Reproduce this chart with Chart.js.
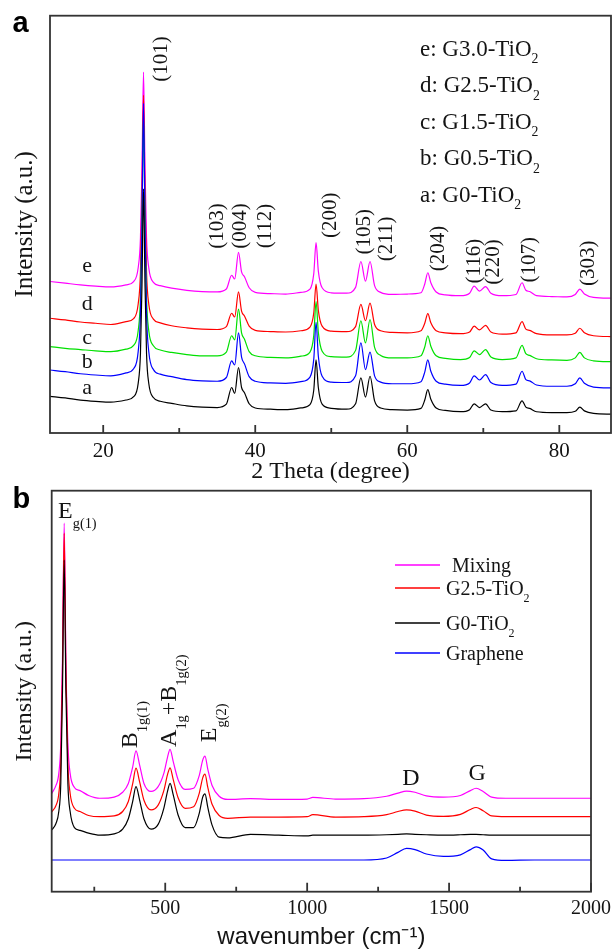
<!DOCTYPE html>
<html lang="en">
<head>
<meta charset="utf-8">
<title>XRD and Raman spectra</title>
<script src="https://cdn.jsdelivr.net/npm/chart.js"></script>
<style>
  html, body { margin: 0; padding: 0; background: #fff; }
  body { width: 613px; height: 949px; overflow: hidden; position: relative; }
  #xrdChart { position: absolute; left: 0; top: 0; }
  #ramanChart { position: absolute; left: 0; top: 470px; }
</style>
</head>
<body>
<canvas id="xrdChart" width="613" height="490"></canvas>
<canvas id="ramanChart" width="613" height="485"></canvas>
<script>
// ---------- (a) XRD patterns, stacked traces in arbitrary units ----------
const twoTheta = [13,15,17,19,21,23,24,24.6,24.9,25.1,25.3,25.5,25.7,26,26.6,27.5,29,31,33,35,
  36.2,36.9,37.3,37.8,38.2,38.6,39.2,40,42,44,46,47.2,47.7,48,48.3,48.8,50,52,53.2,53.9,54.5,55.1,
  55.7,56.5,58,60,61.8,62.3,62.7,63.1,63.8,65,67,68.2,68.8,69.5,70.3,71,72.5,74.3,75.1,75.6,76.1,
  77,79,81,82.1,82.7,83.3,84.5,87];

const xrdG0 = [8.8,8.4,7.9,7.6,7.4,7.9,8.7,11.9,19.1,35.4,58.5,35.4,19.0,11.8,8.5,7.6,7.1,6.5,6.2,
  6.1,6.9,10.9,9.5,15.7,10.9,9.6,7.0,6.0, 5.7,5.6, 6.0,6.8,10.3,17.5,10.9,6.9,5.9,
  5.7,7.0,13.2,8.6,13.6,7.7,6.0,5.6, 5.5,5.9,7.9,10.4,8.1,6.0,5.4,5.1,
  5.6,7.0,6.1,7.0,5.5,5.1, 5.3,7.7,6.2,5.9,5.1,4.9, 4.9,5.2,6.2,5.3,4.7,4.5];
const xrdG05 = [15.1,14.7,14.2,13.9,13.7,14.4,15.4,19.5,28.7,49.5,79.0,49.5,28.6,19.4,15.2,14.1,13.5,12.8,12.5,
  12.4,13.3,17.3,16.3,24.0,18.2,16.5,13.5,12.4, 12.0,11.9, 12.3,13.4,17.7,26.5,18.4,13.6,12.2,
  12.1,13.7,21.6,15.2,19.4,13.7,12.2,11.8, 11.8,12.3,14.6,17.5,14.8,12.4,11.7,11.4,
  12.0,13.7,12.7,14.0,12.1,11.4, 11.7,14.8,12.8,12.5,11.5,11.2, 11.2,11.8,13.2,11.9,11.0,10.8];
const xrdG15 = [20.7,20.3,20.0,19.7,19.5,20.1,21.0,24.5,32.4,50.5,76.0,50.5,32.3,24.4,20.9,19.9,19.3,18.8,18.5,
  18.5,19.4,23.3,22.3,29.7,24.0,22.4,19.5,18.5, 18.1,18.0, 18.4,19.4,23.4,31.5,24.1,19.6,18.3,
  18.2,19.8,26.9,21.6,27.2,20.5,18.6,18.0, 18.0,18.5,20.6,23.3,20.8,18.5,17.9,17.6,
  18.1,19.7,18.8,20.0,18.2,17.6, 18.0,21.0,19.0,18.6,17.8,17.5, 17.4,18.0,19.3,18.0,17.3,17.1];
const xrdG25 = [27.5,27.1,26.6,26.3,26.0,26.7,27.4,30.9,38.6,56.2,81.0,56.2,38.5,30.8,27.3,26.4,25.7,25.2,24.9,
  24.8,25.5,28.7,27.8,33.8,29.2,28.0,25.6,24.6, 24.3,24.2, 24.5,25.4,28.8,35.7,29.4,25.6,24.4,
  24.3,25.5,30.8,26.9,31.1,26.0,24.5,24.1, 24.0,24.5,26.3,28.6,26.4,24.5,24.0,23.8,
  24.2,25.6,24.7,25.8,24.2,23.7, 24.0,26.7,24.9,24.6,23.8,23.5, 23.5,23.9,25.1,24.0,23.3,23.1];
const xrdG30 = [36.3,35.9,35.5,35.2,35.0,35.5,36.3,39.6,46.8,63.2,86.5,63.2,46.7,39.5,36.1,35.3,34.7,34.2,33.9,
  33.8,34.5,37.8,36.9,43.3,38.6,37.4,34.8,33.7, 33.4,33.3, 33.7,34.5,38.2,45.6,38.8,34.8,33.6,
  33.5,34.9,41.1,36.4,41.1,35.3,33.7,33.2, 33.3,33.6,35.7,38.4,36.0,33.8,33.1,32.9,
  33.5,35.2,34.0,35.1,33.5,32.9, 33.2,36.0,34.2,33.9,32.9,32.7, 32.6,33.2,34.5,33.3,32.5,32.3];

const xrdTicks = [20, 30, 40, 50, 60, 70, 80];
const xrdTickLabels = [20, 40, 60, 80];

const hklNames = ['(101)','(103)','(004)','(112)','(200)','(105)','(211)','(204)','(116)','(220)','(107)','(303)'];
const hklX = [27.7, 35.0, 38.1, 41.4, 49.9, 54.4, 57.3, 64.1, 68.8, 71.3, 76.1, 83.8];
const hklY = [89.6, 49.6, 49.6, 49.6, 52.2, 48.2, 46.5, 44.2, 41.2, 41.0, 41.5, 40.7];

const xrdLetters = ['a', 'b', 'c', 'd', 'e'];
const xrdSamples = ['G0-TiO2', 'G0.5-TiO2', 'G1.5-TiO2', 'G2.5-TiO2', 'G3.0-TiO2'];
const xrdLetterY = [10.7, 16.9, 22.8, 30.9, 40.0];

// ---------- (b) Raman spectra ----------
const ramanShift = [100,115,125,132,138,144,150,157,165,180,200,230,270,320,350,370,385,397,410,425,
  450,475,495,508,517,528,545,570,600,620,632,640,650,665,690,720,800,900,1000,1020,
  1100,1200,1280,1320,1350,1380,1420,1480,1540,1575,1595,1620,1650,1700,1800,1900,2000];

const ramanMixing = [24.5,26.5,29.5,37,58,91.9,58,37,29.5,26.0, 25.2,24.0,23.3,23.6,24.8,27.0,31.0,35.1,31.5,27.0,
  25.0,26.2,29.5,33.5,35.5,32.5,28.0,25.5,25.8,29.0, 32.8,33.8,30.5,26.5,23.8,23.0,23.2,23.0,23.1,23.5,
  23.1,23.2,23.8,24.6,25.1,24.8,23.9,23.6,24.0,25.2, 25.8,25.0,23.6,23.3,23.3,23.3,23.3];
const ramanG25 = [19.9,21.5,24.5,32,55,89.4,55,32,24.5,20.8, 20.0,19.0,18.7,18.9,20.0,22.5,26.8,30.8,27.3,22.8,
  20.4,21.6,25.2,29.2,30.9,28.0,23.5,20.8,21.2,24.6, 28.4,29.3,26.0,21.8,19.0,18.3,18.6,18.6,18.7,19.2,
  18.6,18.7,19.2,20.0,20.4,20.1,19.1,18.8,19.3,20.5, 21.0,20.2,18.9,18.7,18.7,18.7,18.7];
const ramanG0 = [15.4,17.0,20.0,27,50,82.7,50,27,20.0,16.0, 15.3,14.6,14.1,14.4,15.6,18.2,22.4,26.2,22.8,18.2,
  15.6,16.8,20.8,25.0,27.0,24.2,19.2,16.0,16.0,19.6, 23.6,24.4,21.0,16.6,13.6,13.4,14.3,14.1,13.9,14.1,
  14.1,14.1,14.2,14.3,14.4,14.3,14.2,14.1,14.2,14.3, 14.3,14.2,14.1,14.1,14.1,14.1,14.1];
const ramanGraphene = [7.9,7.9,7.9,7.9,7.9,7.9,7.9,7.9,7.9,7.9, 7.9,7.9,7.9,7.9,7.9,7.9,7.9,7.9,7.9,7.9,
  7.9,7.9,7.9,7.9,7.9,7.9,7.9,7.9,7.9,7.9, 7.9,7.9,7.9,7.9,7.9,7.9,7.9,7.9,7.9,7.9,
  7.9,7.9,8.4,9.8,10.8,10.5,9.4,8.8,9.2,10.5, 11.2,10.4,8.2,7.8,7.9,7.9,7.9];

const ramanTicks = [250, 500, 750, 1000, 1250, 1500, 1750, 2000];
const ramanTickLabels = [500, 1000, 1500, 2000];

const SERIF = "'Liberation Serif', 'Times New Roman', serif";
const SANS = "'Liberation Sans', Arial, sans-serif";
const INK = '#141414';

// text with subscripts: parts = [[text, isSub], ...]
function richText(ctx, parts, x, y, size, family, shift) {
  let cx = x;
  for (const [t, sub] of parts) {
    ctx.font = (sub ? size * 0.6 : size) + 'px ' + family;
    ctx.fillText(t, cx, sub ? y + shift : y);
    cx += ctx.measureText(t).width;
  }
}
function chem(name) {
  return name.endsWith('O2') ? [[name.slice(0, -1)], ['2', true]] : [[name]];
}

// box around the plot and inward tick marks on the bottom axis
function drawFrame(ctx, area, xScale, majors, majorLen, minorLen) {
  ctx.save();
  ctx.strokeStyle = '#333';
  ctx.lineWidth = 1.8;
  ctx.beginPath();
  xScale.ticks.forEach(t => {
    const px = xScale.getPixelForValue(t.value);
    const len = majors.includes(t.value) ? majorLen : minorLen;
    ctx.moveTo(px, area.bottom);
    ctx.lineTo(px, area.bottom - len);
  });
  ctx.stroke();
  ctx.strokeRect(area.left, area.top, area.right - area.left, area.bottom - area.top);
  ctx.restore();
}

const xrdDecor = {
  id: 'xrdDecor',
  afterDraw(chart) {
    const {ctx, chartArea, scales: {x, y}} = chart;
    drawFrame(ctx, chartArea, x, xrdTickLabels, 8, 5);
    ctx.save();
    ctx.fillStyle = INK;
    ctx.textAlign = 'center';
    ctx.textBaseline = 'middle';
    ctx.font = '21px ' + SERIF;
    hklNames.forEach((t, i) => {
      ctx.save();
      ctx.translate(x.getPixelForValue(hklX[i]), y.getPixelForValue(hklY[i]));
      ctx.rotate(-Math.PI / 2);
      ctx.fillText(t, 0, 0);
      ctx.restore();
    });
    ctx.font = '22px ' + SERIF;
    xrdLetters.forEach((t, i) => {
      ctx.fillText(t, x.getPixelForValue(17.9), y.getPixelForValue(xrdLetterY[i]));
    });
    ctx.textAlign = 'left';
    ctx.textBaseline = 'alphabetic';
    for (let i = xrdSamples.length - 1, row = 0; i >= 0; i--, row++) {
      richText(ctx, [[xrdLetters[i] + ': ']].concat(chem(xrdSamples[i])), 420, 56 + row * 36.4, 23, SERIF, 7.4);
    }
    ctx.font = 'bold 29px ' + SANS;
    ctx.fillStyle = '#000';
    ctx.fillText('a', 12.5, 31.5);
    ctx.restore();
  }
};

const ramanTags = [
  {parts: [['E'], ['g(1)', true]], x: 122.3, y: 93.2, rotate: false},
  {parts: [['B'], ['1g(1)', true]], x: 401.6, y: 35.8, rotate: true},
  {parts: [['A'], ['1g', true], ['+B'], ['1g(2)', true]], x: 539.5, y: 36.1, rotate: true},
  {parts: [['E'], ['g(2)', true]], x: 677.5, y: 37.3, rotate: true},
  {parts: [['D']], x: 1335, y: 26.7, rotate: false},
  {parts: [['G']], x: 1568, y: 27.9, rotate: false}
];
const ramanLegendRows = [95, 118, 153, 183];
const ramanLegendTextX = [452, 446, 446, 446];

const ramanDecor = {
  id: 'ramanDecor',
  afterDraw(chart) {
    const {ctx, chartArea, scales: {x, y}} = chart;
    drawFrame(ctx, chartArea, x, ramanTickLabels, 9, 5);
    ctx.save();
    ctx.fillStyle = INK;
    ctx.textAlign = 'left';
    ctx.textBaseline = 'alphabetic';
    ramanTags.forEach(tag => {
      ctx.save();
      ctx.translate(x.getPixelForValue(tag.x), y.getPixelForValue(tag.y));
      if (tag.rotate) ctx.rotate(-Math.PI / 2);
      richText(ctx, tag.parts, 0, 0, 24, SERIF, 10);
      ctx.restore();
    });
    chart.data.datasets.forEach((ds, i) => {
      const ry = ramanLegendRows[i];
      ctx.strokeStyle = ds.borderColor;
      ctx.lineWidth = 1.6;
      ctx.beginPath();
      ctx.moveTo(395, ry);
      ctx.lineTo(440, ry);
      ctx.stroke();
      richText(ctx, chem(ds.label), ramanLegendTextX[i], ry + 6.5, 20, SERIF, 7);
    });
    ctx.font = 'bold 29px ' + SANS;
    ctx.fillStyle = '#000';
    ctx.fillText('b', 12.5, 38);
    ctx.restore();
  }
};

function series(xs, ys, label, color, order) {
  return {
    label: label,
    data: xs.map((v, i) => ({x: v, y: ys[i]})),
    borderColor: color,
    borderWidth: 1.2,
    pointRadius: 0,
    fill: false,
    cubicInterpolationMode: 'monotone',
    order: order
  };
}

function bottomAxis(min, max, ticks, labels, boxHeight, tickSize, tickPad, title, titleFont, titlePad) {
  return {
    type: 'linear', min: min, max: max,
    afterBuildTicks: s => { s.ticks = ticks.map(v => ({value: v})); },
    afterFit: s => { s.height = boxHeight; s.paddingLeft = 0; s.paddingRight = 0; },
    ticks: {
      autoSkip: false, maxRotation: 0, padding: tickPad, color: INK,
      font: {family: SERIF, size: tickSize},
      callback: v => labels.includes(v) ? String(v) : ''
    },
    grid: {display: false, drawTicks: false},
    border: {display: false},
    title: {display: true, text: title, color: INK, font: titleFont, padding: {top: 0, bottom: titlePad}}
  };
}

function leftAxis(width, titleSize, titlePad) {
  return {
    min: 0, max: 100,
    afterFit: s => { s.width = width; s.paddingTop = 0; s.paddingBottom = 0; },
    ticks: {display: false},
    grid: {display: false, drawTicks: false},
    border: {display: false},
    title: {display: true, text: 'Intensity (a.u.)', color: INK,
            font: {family: SERIF, size: titleSize}, padding: {top: titlePad, bottom: 0}}
  };
}

new Chart(document.getElementById('xrdChart'), {
  type: 'line',
  data: {
    datasets: [
      series(twoTheta, xrdG30, 'G3.0-TiO2', '#ff00ff', 4),
      series(twoTheta, xrdG25, 'G2.5-TiO2', '#ff0000', 3),
      series(twoTheta, xrdG15, 'G1.5-TiO2', '#00e000', 2),
      series(twoTheta, xrdG05, 'G0.5-TiO2', '#0000ff', 1),
      series(twoTheta, xrdG0, 'G0-TiO2', '#000000', 0)
    ]
  },
  options: {
    responsive: false, animation: false, events: [],
    layout: {padding: {top: 15.7, right: 2, bottom: 0, left: 0}},
    plugins: {legend: {display: false}, tooltip: {enabled: false}},
    scales: {
      x: bottomAxis(13, 86.8, xrdTicks, xrdTickLabels, 57, 21, 6.1,
                    '2 Theta (degree)', {family: SERIF, size: 24}, 3.6),
      y: leftAxis(50, 25, 10.4)
    }
  },
  plugins: [xrdDecor]
});

new Chart(document.getElementById('ramanChart'), {
  type: 'line',
  data: {
    datasets: [
      series(ramanShift, ramanMixing, 'Mixing', '#ff00ff', 2),
      series(ramanShift, ramanG25, 'G2.5-TiO2', '#ff0000', 1),
      series(ramanShift, ramanG0, 'G0-TiO2', '#000000', 0),
      series(ramanShift, ramanGraphene, 'Graphene', '#0000ff', 3)
    ]
  },
  options: {
    responsive: false, animation: false, events: [],
    layout: {padding: {top: 20.7, right: 22, bottom: 0, left: 0}},
    plugins: {legend: {display: false}, tooltip: {enabled: false}},
    scales: {
      x: bottomAxis(100, 2000, ramanTicks, ramanTickLabels, 63.3, 20, 4.6,
                    'wavenumber (cm\u207B\u00B9)', {family: SANS, size: 24}, 3.6),
      y: leftAxis(51.7, 24, 10.1)
    }
  },
  plugins: [ramanDecor]
});
</script>
</body>
</html>
